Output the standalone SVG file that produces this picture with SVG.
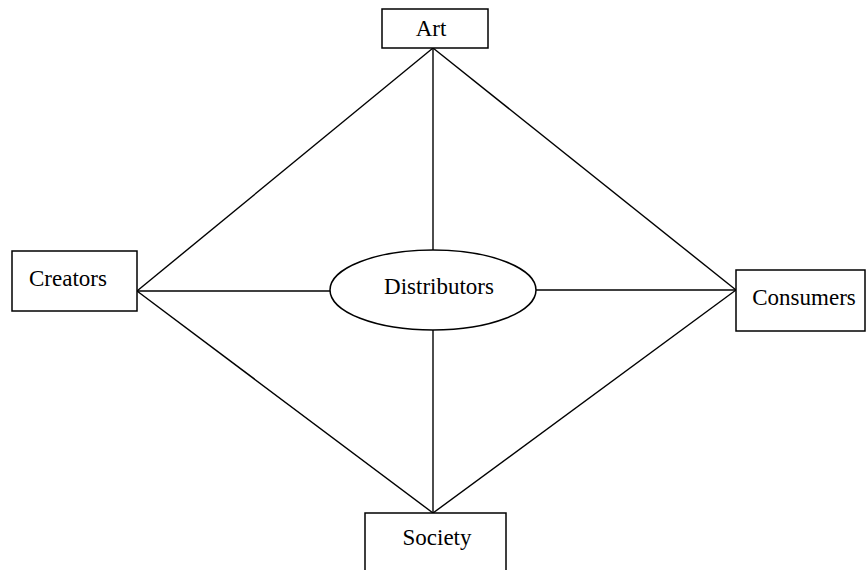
<svg xmlns="http://www.w3.org/2000/svg" width="867" height="570" viewBox="0 0 867 570">
<style>
.box{fill:#fff;stroke:#000;stroke-width:1.5}
.ln{stroke:#000;stroke-width:1.4;fill:none}
.t{font-family:"Liberation Serif",serif;font-size:23px;fill:#000;text-anchor:middle}
</style>
<rect width="867" height="570" fill="#fff"/>
<g id="connectors">
<line class="ln" x1="433" y1="48" x2="137" y2="291"/>
<line class="ln" x1="433" y1="48" x2="736" y2="290"/>
<line class="ln" x1="137" y1="291" x2="433" y2="513"/>
<line class="ln" x1="736" y1="290" x2="433" y2="513"/>
<line class="ln" x1="433" y1="48" x2="433" y2="250"/>
<line class="ln" x1="433" y1="330" x2="433" y2="513"/>
<line class="ln" x1="137" y1="291" x2="330" y2="291"/>
<line class="ln" x1="536" y1="290" x2="736" y2="290"/>
</g>
<g id="art"><rect class="box" x="382" y="9" width="106" height="39"/><text class="t" x="431" y="36">Art</text></g>
<g id="creators"><rect class="box" x="12" y="251" width="125" height="60"/><text class="t" x="68" y="286">Creators</text></g>
<g id="consumers"><rect class="box" x="736" y="270" width="129" height="61"/><text class="t" x="804" y="305">Consumers</text></g>
<g id="society"><rect class="box" x="365" y="513" width="141" height="62"/><text class="t" x="437" y="545">Society</text></g>
<g id="distributors"><ellipse class="box" cx="433" cy="290" rx="103" ry="40"/><text class="t" x="439" y="294">Distributors</text></g>
</svg>
